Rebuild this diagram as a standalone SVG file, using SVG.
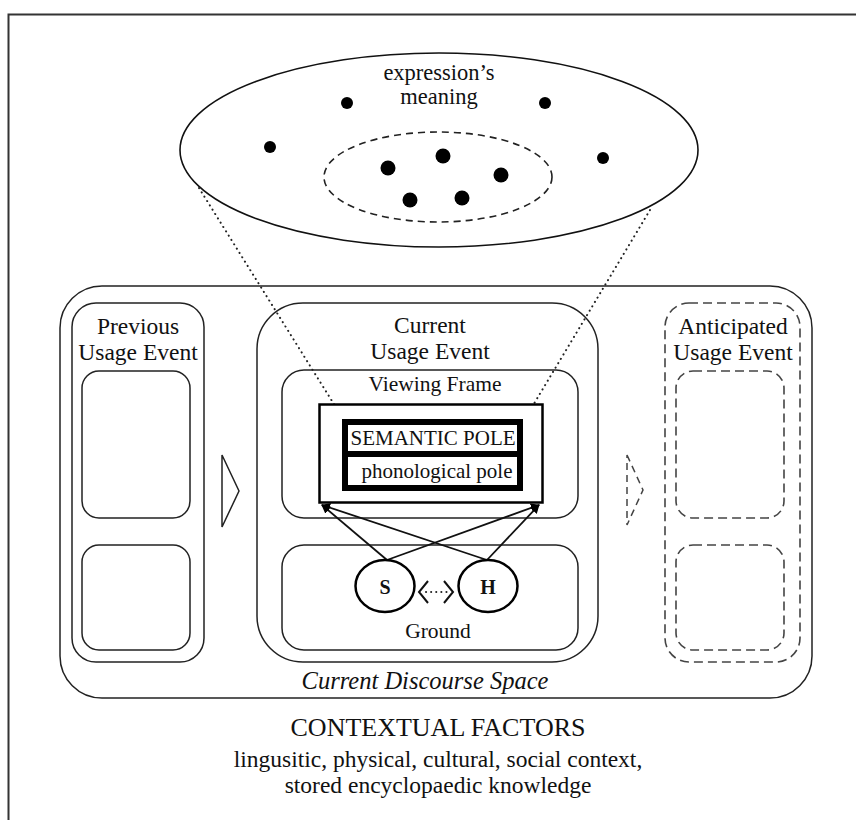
<svg xmlns="http://www.w3.org/2000/svg" width="856" height="820" viewBox="0 0 856 820" font-family="'Liberation Serif', 'DejaVu Serif', serif">
<style>
text{font-family:'Liberation Serif','DejaVu Serif',serif;fill:#111;text-anchor:middle}
.th{font-size:23.5px}
.t21{font-size:21.5px}
.box{fill:none;stroke:#222;stroke-width:1.5}
.dash{fill:none;stroke:#444;stroke-width:1.6;stroke-dasharray:9 5}
.dot{fill:#000}
.dotted{fill:none;stroke:#222;stroke-width:2;stroke-dasharray:0.1 5;stroke-linecap:round}
</style>
<defs>
<marker id="ah" viewBox="0 0 10 10" refX="9" refY="5" markerWidth="9" markerHeight="9" markerUnits="userSpaceOnUse" orient="auto">
<path d="M0,0 L10,5 L0,10 z" fill="#000"/>
</marker>
</defs>
<rect width="856" height="820" fill="#fff"/>
<path d="M8.5,820 V14.5 H856" fill="none" stroke="#333" stroke-width="2"/>

<g id="meaning">
<ellipse cx="439" cy="150" rx="259" ry="97" fill="#fff" stroke="#111" stroke-width="1.6"/>
<ellipse cx="438" cy="177" rx="114" ry="45" fill="none" stroke="#222" stroke-width="1.6" stroke-dasharray="7 5"/>
<text x="439" y="80" style="font-size:22.5px">expression’s</text>
<text x="439" y="104" style="font-size:22.5px">meaning</text>
<circle class="dot" cx="347" cy="103" r="6"/>
<circle class="dot" cx="545" cy="103" r="6"/>
<circle class="dot" cx="270" cy="147" r="6"/>
<circle class="dot" cx="603" cy="158" r="6"/>
<circle class="dot" cx="388" cy="168" r="7.5"/>
<circle class="dot" cx="443" cy="156" r="7.5"/>
<circle class="dot" cx="501" cy="175" r="7.5"/>
<circle class="dot" cx="410" cy="200" r="7.5"/>
<circle class="dot" cx="462" cy="198" r="7.5"/>
</g>

<g id="discourse-space">
<rect class="box" x="60" y="286" width="752" height="412" rx="42"/>
<text x="425" y="689" style="font-size:24.5px;font-style:italic">Current Discourse Space</text>
</g>

<g id="previous">
<rect class="box" x="72" y="303" width="132" height="359" rx="24"/>
<text class="th" x="138" y="334">Previous</text>
<text class="th" x="138" y="360">Usage Event</text>
<rect class="box" x="82" y="371" width="108" height="147" rx="17"/>
<rect class="box" x="82" y="545" width="108" height="105" rx="17"/>
</g>

<g id="current">
<rect class="box" x="257" y="303" width="341" height="359" rx="46"/>
<text class="th" x="430" y="333">Current</text>
<text class="th" x="430" y="359">Usage Event</text>
</g>

<g id="viewing-frame">
<rect class="box" x="282" y="370" width="296" height="148" rx="22"/>
<text class="t21" x="435" y="391">Viewing Frame</text>
</g>

<g id="ground">
<rect class="box" x="282" y="545" width="296" height="105" rx="22"/>
<text class="t21" x="438" y="638">Ground</text>
</g>

<g id="anticipated">
<rect class="dash" x="665" y="303" width="135" height="359" rx="24"/>
<text class="th" x="733" y="334">Anticipated</text>
<text class="th" x="733" y="360">Usage Event</text>
<rect class="dash" x="676" y="371" width="108" height="147" rx="17"/>
<rect class="dash" x="676" y="545" width="108" height="105" rx="17"/>
</g>

<g id="arrow-prev">
<path d="M222,455 L239,491 L222,527 Z" fill="#fff" stroke="#222" stroke-width="1.5"/>
</g>
<g id="arrow-next">
<path d="M627,455 L643,490 L627,525 Z" fill="#fff" stroke="#444" stroke-width="1.5" stroke-dasharray="7 5"/>
</g>

<g id="connectors">
<line class="dotted" x1="199" y1="188" x2="342" y2="417"/>
<line class="dotted" x1="650" y1="210" x2="526" y2="417"/>
<g stroke="#111" stroke-width="1.8" fill="none">
<line x1="387" y1="560" x2="322" y2="505" marker-end="url(#ah)"/>
<line x1="387" y1="560" x2="539" y2="505" marker-end="url(#ah)"/>
<line x1="487" y1="560" x2="322" y2="505" marker-end="url(#ah)"/>
<line x1="487" y1="560" x2="539" y2="505" marker-end="url(#ah)"/>
</g>
<line class="dotted" x1="426" y1="592" x2="447" y2="592" stroke-dasharray="0.1 4"/>
<path d="M428,581 L419,592 L428,603 M444,581 L453,592 L444,603" fill="none" stroke="#111" stroke-width="2"/>
</g>

<g id="symbolic-unit">
<rect x="319.5" y="404.5" width="223" height="98" fill="#fff" stroke="#000" stroke-width="2.5"/>
<rect x="342" y="419" width="181" height="72" fill="#000"/>
<rect x="348" y="425" width="169" height="26" fill="#fff"/>
<rect x="348" y="457" width="169" height="28" fill="#fff"/>
<text class="t21" x="433" y="445" style="font-size:21px">SEMANTIC POLE</text>
<text class="t21" x="437" y="478" style="font-size:21px">phonological pole</text>
</g>

<g id="speaker">
<ellipse cx="385" cy="586" rx="29.5" ry="26" fill="#fff" stroke="#000" stroke-width="2.5"/>
<text x="385" y="594" style="font-size:20px;font-weight:bold">S</text>
</g>
<g id="hearer">
<ellipse cx="488" cy="586" rx="29.5" ry="26" fill="#fff" stroke="#000" stroke-width="2.5"/>
<text x="488" y="594" style="font-size:20px;font-weight:bold">H</text>
</g>

<g id="context">
<text x="438" y="736" style="font-size:26px">CONTEXTUAL FACTORS</text>
<text x="438" y="767" class="th">lingusitic, physical, cultural, social context,</text>
<text x="438" y="793" class="th">stored encyclopaedic knowledge</text>
</g>
</svg>
